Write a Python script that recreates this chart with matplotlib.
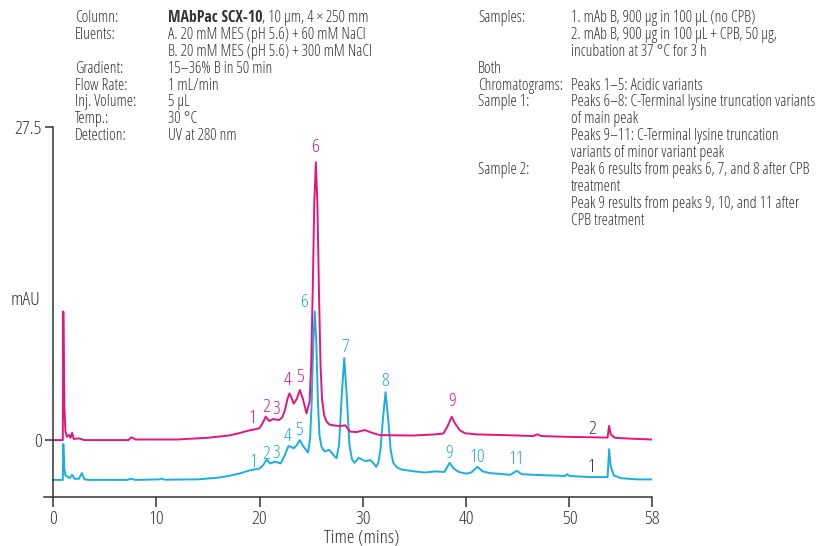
import matplotlib
matplotlib.use('Agg')
import matplotlib.pyplot as plt

plt.rcParams['font.family'] = ['Open Sans', 'DejaVu Sans']
plt.rcParams['font.stretch'] = 'condensed'

PINK = '#e5157f'
BLUE = '#1cade4'
INK = '#333333'

# sample 2 (with CPB), mAU vs time (min)
pink_trace = [(0, 0), (0.95, 0), (1.0, 11.3), (1.1, 3.0), (1.2, 0.8), (1.35, 0.3), (1.55, 0.45),
              (1.7, 0.2), (1.85, 0.65), (2.0, 0.1), (2.5, 0.15), (3.0, 0.0), (7.3, 0.0), (7.6, 0.25),
              (8.0, 0.05), (12.0, 0.05), (15.0, 0.2), (16.0, 0.3), (17.0, 0.4), (18.0, 0.6), (19.0, 0.85),
              (19.6, 0.95), (20.0, 1.05), (20.3, 1.5), (20.6, 2.05), (20.95, 1.67), (21.3, 1.85),
              (21.6, 1.8), (21.9, 1.76), (22.2, 2.0), (22.45, 2.6), (22.7, 3.6), (22.9, 4.1), (23.1, 3.7),
              (23.3, 3.2), (23.6, 3.6), (23.9, 4.4), (24.2, 3.6), (24.55, 2.35), (24.85, 3.4), (25.0, 6.7),
              (25.15, 13.2), (25.3, 20.8), (25.45, 24.4), (25.6, 20.8), (25.75, 13.2), (25.9, 6.7),
              (26.05, 3.6), (26.25, 2.2), (26.5, 1.6), (26.8, 1.35), (27.5, 1.25), (28.0, 1.25),
              (28.3, 1.3), (28.75, 0.75), (29.4, 0.7), (29.8, 0.8), (30.2, 0.88), (30.7, 0.7), (31.2, 0.55),
              (31.65, 0.44), (33.0, 0.42), (34.9, 0.4), (37.0, 0.5), (37.8, 0.58), (38.2, 1.2), (38.6, 2.05),
              (38.9, 1.5), (39.4, 0.85), (39.9, 0.6), (41.0, 0.5), (43.0, 0.45), (45.0, 0.4), (46.5, 0.35),
              (46.9, 0.5), (47.3, 0.35), (50.0, 0.28), (53.7, 0.22), (53.85, 1.25), (54.0, 0.5),
              (54.4, 0.2), (56.0, 0.12), (58.0, 0.05)]

# sample 1 (no CPB), drawn offset below
blue_trace = [(0, -3.5), (0.95, -3.5), (1.0, -0.35), (1.1, -2.5), (1.2, -3.1), (1.4, -3.2), (1.6, -3.35),
              (1.85, -3.05), (2.1, -3.4), (2.5, -3.4), (2.8, -2.9), (3.05, -3.45), (3.5, -3.5), (7.2, -3.5),
              (7.5, -3.4), (8.0, -3.5), (10.3, -3.45), (10.5, -3.38), (10.8, -3.48), (14.0, -3.45),
              (16.0, -3.3), (17.0, -3.15), (18.0, -2.95), (19.1, -2.65), (20.0, -2.5), (20.35, -2.2),
              (20.7, -1.7), (21.0, -2.05), (21.5, -1.9), (22.05, -2.05), (22.45, -1.3), (22.8, -0.53),
              (23.05, -0.6), (23.3, -0.73), (23.6, -0.45), (23.9, 0.0), (24.2, -0.5), (24.7, -1.1),
              (24.9, 0.2), (25.05, 3.4), (25.2, 8.5), (25.35, 11.3), (25.5, 8.5), (25.65, 3.4), (25.8, 0.4),
              (26.0, -0.6), (26.3, -1.0), (26.75, -0.85), (27.1, -1.25), (27.45, -1.6), (27.7, -0.4),
              (27.95, 3.8), (28.2, 7.2), (28.45, 3.8), (28.7, -0.4), (28.95, -1.7), (29.2, -2.0),
              (29.6, -1.55), (30.0, -1.75), (30.3, -1.85), (30.7, -1.75), (31.0, -2.0), (31.3, -2.35),
              (31.5, -2.0), (31.7, -0.9), (31.95, 1.9), (32.2, 4.2), (32.45, 1.9), (32.7, -0.9),
              (32.95, -2.0), (33.3, -2.4), (33.8, -2.6), (35.0, -2.75), (36.0, -2.85), (37.0, -2.75),
              (37.9, -2.8), (38.4, -2.0), (38.8, -2.5), (39.3, -2.8), (40.0, -2.95), (40.5, -2.85),
              (41.1, -2.35), (41.6, -2.75), (42.3, -2.9), (43.0, -2.95), (44.3, -3.05), (44.9, -2.7),
              (45.4, -3.0), (46.5, -3.05), (48.0, -3.1), (49.6, -3.15), (49.8, -3.0), (50.0, -3.15),
              (52.0, -3.25), (53.7, -3.25), (53.85, -0.8), (54.0, -2.3), (54.3, -3.1), (55.0, -3.35),
              (56.5, -3.45), (58.0, -3.46)]

pink_peaks = [('1', 19.3, 1.9), ('2', 20.6, 2.9), ('3', 21.65, 2.7), ('4', 22.7, 5.3), ('5', 23.9, 5.5),
              ('6', 25.5, 25.7), ('9', 38.65, 3.4)]
blue_peaks = [('1', 19.4, -1.9), ('2', 20.6, -1.2), ('3', 21.65, -1.1), ('4', 22.7, 0.4), ('5', 23.8, 0.9),
              ('6', 24.4, 12.1), ('7', 28.3, 8.2), ('8', 32.2, 5.2), ('9', 38.4, -1.1), ('10', 41.1, -1.5),
              ('11', 44.9, -1.7)]
trace_names = [('2', 52.2, 1.0), ('1', 52.1, -2.4)]

xticks = [0, 10, 20, 30, 40, 50, 58]
yticks = [0, 27.5]

left_rows = [('Column:', None), ('Eluents:', 'A. 20 mM MES (pH 5.6) + 60 mM NaCl'),
             ('', 'B. 20 mM MES (pH 5.6) + 300 mM NaCl'), ('Gradient:', '15–36% B in 50 min'),
             ('Flow Rate:', '1 mL/min'), ('Inj. Volume:', '5 µL'), ('Temp.:', '30 °C'),
             ('Detection:', 'UV at 280 nm')]
right_rows = [('Samples:', '1. mAb B, 900 µg in 100 µL (no CPB)'),
              ('', '2. mAb B, 900 µg in 100 µL + CPB, 50 µg,'),
              ('', 'incubation at 37 °C for 3 h'),
              ('Both', ''),
              ('Chromatograms:', 'Peaks 1–5: Acidic variants'),
              ('Sample 1:', 'Peaks 6–8: C-Terminal lysine truncation variants'),
              ('', 'of main peak'),
              ('', 'Peaks 9–11: C-Terminal lysine truncation'),
              ('', 'variants of minor variant peak'),
              ('Sample 2:', 'Peak 6 results from peaks 6, 7, and 8 after CPB'),
              ('', 'treatment'),
              ('', 'Peak 9 results from peaks 9, 10, and 11 after'),
              ('', 'CPB treatment')]

W, H = 817, 546
fig = plt.figure(figsize=(W / 100, H / 100), dpi=100)
ax = fig.add_axes([43.7 / W, 49 / H, 608.3 / W, 370 / H])

pt, pv = zip(*pink_trace)
bt, bv = zip(*blue_trace)
ax.plot(bt, bv, color=BLUE, lw=1.4, solid_joinstyle='round')
ax.plot(pt, pv, color=PINK, lw=1.4, solid_joinstyle='round')

lab_fs = 14
for s, x, y in pink_peaks:
    ax.text(x, y, s, color=PINK, fontsize=lab_fs, ha='center', va='center')
for s, x, y in blue_peaks:
    ax.text(x, y, s, color=BLUE, fontsize=lab_fs, ha='center', va='center')
for s, x, y in trace_names:
    ax.text(x, y, s, color=INK, fontsize=lab_fs, ha='center', va='center')

ax.set_xlim(-0.9, 58)
ax.set_ylim(-5.0, 27.5)
ax.set_xticks(xticks)
ax.set_yticks(yticks)
ax.set_yticklabels(['0', '27.5'])
for side in ['top', 'right']:
    ax.spines[side].set_visible(False)
ax.spines['left'].set_position(('data', 0))
for side in ['left', 'bottom']:
    ax.spines[side].set_color(INK)
    ax.spines[side].set_linewidth(1.1)
ax.tick_params(axis='both', direction='out', colors=INK, labelsize=14, width=1.1)
ax.tick_params(axis='x', length=7, pad=2)
ax.tick_params(axis='y', length=6, pad=2)

fig.text(26 / W, 1 - 300 / H, 'mAU', fontsize=14, color=INK, ha='center', va='center')
fig.text(362 / W, 1 - 538 / H, 'Time (mins)', fontsize=14, color=INK, ha='center', va='center')

# method conditions header
fs = 11.4
y0, dy = 18, 16.9
for i, (lab, val) in enumerate(left_rows):
    y = 1 - (y0 + i * dy) / H
    fig.text(75 / W, y, lab, fontsize=fs, color=INK, va='center')
    if val:
        fig.text(168 / W, y, val, fontsize=fs, color=INK, va='center')
bold = fig.text(168 / W, 1 - y0 / H, 'MAbPac SCX-10', fontsize=fs, color=INK, va='center',
                fontweight='bold', family=['Open Sans Condensed', 'Open Sans', 'DejaVu Sans'])
bb = bold.get_window_extent(renderer=fig.canvas.get_renderer())
fig.text(bb.x1 / W, 1 - y0 / H, ', 10 µm, 4 × 250 mm', fontsize=fs, color=INK, va='center')

for i, (lab, val) in enumerate(right_rows):
    y = 1 - (y0 + i * dy) / H
    if lab:
        fig.text(478 / W, y, lab, fontsize=fs, color=INK, va='center')
    if val:
        fig.text(571 / W, y, val, fontsize=fs, color=INK, va='center')

fig.savefig('out.png', dpi=100)
